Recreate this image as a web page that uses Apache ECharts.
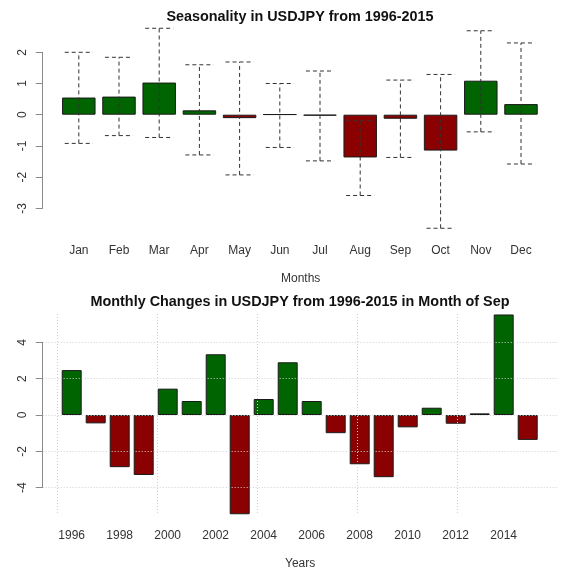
<!DOCTYPE html>
<html><head><meta charset="utf-8">
<script src="https://cdn.jsdelivr.net/npm/echarts@6/dist/echarts.min.js"></script>
<style>html,body{margin:0;padding:0;background:#fff}#c{width:571px;height:571px}</style>
</head><body><div id="c"></div>
<script>
// ---- data ----
const months = ['Jan','Feb','Mar','Apr','May','Jun','Jul','Aug','Sep','Oct','Nov','Dec'];
const monthMeans = [0.55, 0.58, 1.03, 0.14, -0.11, 0.01, -0.03, -1.37, -0.13, -1.15, 1.09, 0.34];
const monthLow   = [-0.92, -0.67, -0.73, -1.29, -1.93, -1.05, -1.48, -2.59, -1.37, -3.64, -0.55, -1.58];
const monthHigh  = [2.00, 1.84, 2.77, 1.60, 1.69, 1.00, 1.40, -0.18, 1.11, 1.29, 2.69, 2.30];
const years = ['1996','1997','1998','1999','2000','2001','2002','2003','2004','2005',
               '2006','2007','2008','2009','2010','2011','2012','2013','2014','2015'];
const sepChanges = [2.47, -0.46, -2.87, -3.30, 1.45, 0.77, 3.34, -5.46, 0.88, 2.90,
                    0.77, -1.00, -2.71, -3.42, -0.68, 0.40, -0.48, 0.09, 5.53, -1.37];
const topTitle = 'Seasonality in USDJPY from 1996-2015';
const bottomTitle = 'Monthly Changes in USDJPY from 1996-2015 in Month of Sep';

const GREEN = '#006400', RED = '#8b0000';
const FONT = '"Liberation Sans", Arial, sans-serif';
const signColor = p => (p.value >= 0 ? GREEN : RED);
const errData = months.map((m, i) => [i, monthLow[i], monthHigh[i]]);

const chart = echarts.init(document.getElementById('c'), null, {renderer: 'canvas'});
const hidden = {show: false};
const axisGray = '#8a8a8a';

chart.setOption({
  animation: false,
  backgroundColor: '#fff',
  title: [
    {text: topTitle, left: 295, top: 5, textAlign: 'center',
     textStyle: {fontFamily: FONT, fontSize: 14.4, fontWeight: 'bold', color: '#111'}},
    {text: bottomTitle, left: 295, top: 290, textAlign: 'center',
     textStyle: {fontFamily: FONT, fontSize: 14.4, fontWeight: 'bold', color: '#111'}}
  ],
  graphic: [
    {type: 'text', left: 281, top: 273, style: {text: 'Months', font: '12px ' + FONT, fill: '#333'}},
    {type: 'text', left: 285, top: 558, style: {text: 'Years', font: '12px ' + FONT, fill: '#333'}}
  ],
  grid: [
    {left: 42.7, width: 514, top: 52.3, height: 156, containLabel: false},   // 0 top axis
    {left: 58.7, width: 482.4, top: 52.3, height: 156, containLabel: false}, // 1 top bars
    {left: 42.7, width: 514, top: 342.3, height: 145.4, containLabel: false}, // 2 bottom axis + h grid
    {left: 59.7, width: 480, top: 342.3, height: 145.4, containLabel: false}, // 3 bottom bars
    {left: 57.7, width: 499, top: 314, height: 200, containLabel: false}     // 4 vertical grid
  ],
  xAxis: [
    {gridIndex: 0, type: 'value', show: false},
    {gridIndex: 1, type: 'category', data: months, boundaryGap: true,
     axisLine: hidden, axisTick: hidden, splitLine: hidden,
     axisLabel: {margin: 36, fontFamily: FONT, fontSize: 12, color: '#333', interval: 0}},
    {gridIndex: 2, type: 'value', show: false},
    {gridIndex: 3, type: 'category', data: years, boundaryGap: true,
     axisLine: hidden, axisTick: hidden, splitLine: hidden,
     axisLabel: {margin: 42, fontFamily: FONT, fontSize: 12, color: '#333', interval: 1}},
    {gridIndex: 4, type: 'value', min: 0, max: 24.95, interval: 5, z: 10,
     axisLine: hidden, axisTick: hidden, axisLabel: hidden,
     splitLine: {show: true, showMaxLine: false, lineStyle: {color: '#cfcfcf', type: [1, 2], width: 1}}}
  ],
  yAxis: [
    {gridIndex: 0, type: 'value', min: -3, max: 2, interval: 1,
     axisLine: {show: true, lineStyle: {color: axisGray, width: 1}},
     axisTick: {show: true, length: 7, lineStyle: {color: axisGray}},
     axisLabel: {rotate: 90, margin: 14, fontFamily: FONT, fontSize: 12, color: '#333'},
     splitLine: hidden},
    {gridIndex: 1, type: 'value', min: -3, max: 2, show: false},
    {gridIndex: 2, type: 'value', min: -4, max: 4, interval: 2, z: 10,
     axisLine: {show: true, lineStyle: {color: axisGray, width: 1}},
     axisTick: {show: true, length: 7, lineStyle: {color: axisGray}},
     axisLabel: {rotate: 90, margin: 14, fontFamily: FONT, fontSize: 12, color: '#333'},
     splitLine: {show: true, lineStyle: {color: '#cfcfcf', type: [1, 2], width: 1}}},
    {gridIndex: 3, type: 'value', min: -4, max: 4, show: false},
    {gridIndex: 4, type: 'value', min: 0, max: 1, show: false}
  ],
  series: [
    {type: 'bar', xAxisIndex: 1, yAxisIndex: 1, data: monthMeans, barWidth: '83.3%', clip: false,
     itemStyle: {color: signColor, borderColor: '#1a1a1a', borderWidth: 1}},
    {type: 'custom', xAxisIndex: 1, yAxisIndex: 1, data: errData, clip: false, z: 5,
     renderItem: function (params, api) {
       const x = api.value(0);
       const lo = api.coord([x, api.value(1)]);
       const hi = api.coord([x, api.value(2)]);
       const hw = api.size([1, 0])[0] * 0.35;
       const st = {stroke: '#333', lineWidth: 1, lineDash: [4, 3]};
       return {type: 'group', children: [
         {type: 'line', shape: {x1: lo[0], y1: lo[1], x2: hi[0], y2: hi[1]}, style: st},
         {type: 'line', shape: {x1: hi[0] - hw, y1: hi[1], x2: hi[0] + hw, y2: hi[1]}, style: st},
         {type: 'line', shape: {x1: lo[0] - hw, y1: lo[1], x2: lo[0] + hw, y2: lo[1]}, style: st}
       ]};
     }},
    {type: 'bar', xAxisIndex: 3, yAxisIndex: 3, data: sepChanges, barWidth: '83.3%', clip: false,
     itemStyle: {color: signColor, borderColor: '#1a1a1a', borderWidth: 1}}
  ]
});
</script></body></html>
